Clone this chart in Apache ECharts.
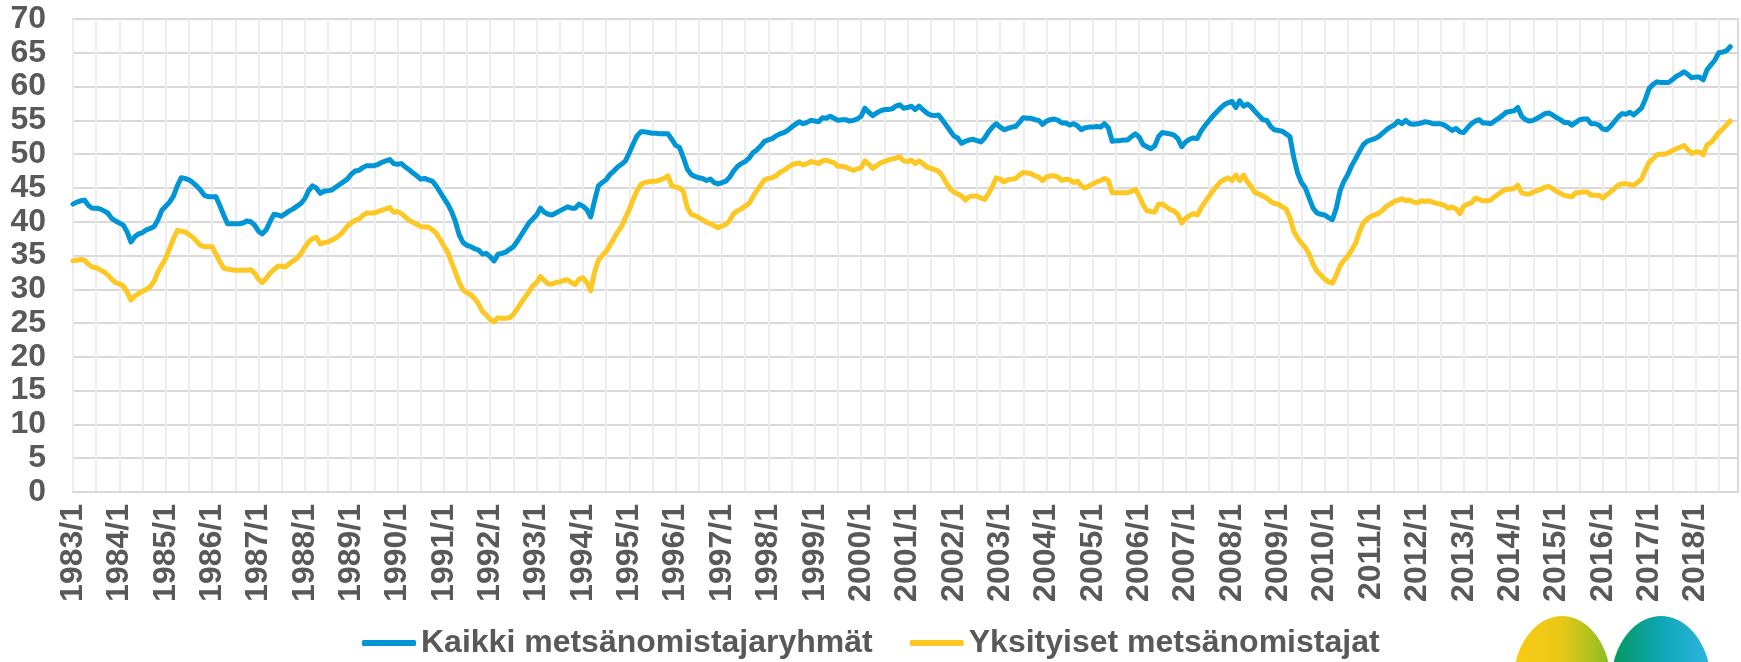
<!DOCTYPE html>
<html>
<head>
<meta charset="utf-8">
<script src="https://cdn.jsdelivr.net/npm/echarts@6/dist/echarts.min.js"></script>
<style>
  html, body { margin: 0; padding: 0; background: #ffffff; }
  #chart { width: 1741px; height: 662px; }
</style>
</head>
<body>
<div id="chart"></div>
<script>
// ---- DATA ----
const firstYear = 1983;
const lastYear = 2018;
// Monthly categories 1983/1 ... 2018/12
const categories = [];
for (let y = firstYear; y <= lastYear; y++) {
  for (let m = 1; m <= 12; m++) categories.push(y + '/' + m);
}
const yTicks = [0, 5, 10, 15, 20, 25, 30, 35, 40, 45, 50, 55, 60, 65, 70];
const seriesNames = ['Kaikki metsänomistajaryhmät', 'Yksityiset metsänomistajat'];

// Kaikki metsänomistajaryhmät (monthly, one row per year)
const kaikki = [
  42.6, 42.9, 43.1, 43.2, 42.4, 42.0, 42.0, 41.9, 41.6, 41.3, 40.5, 40.1,
  39.8, 39.5, 38.5, 37.0, 37.8, 38.2, 38.4, 38.8, 39.0, 39.3, 40.3, 41.7,
  42.3, 42.9, 43.8, 45.3, 46.5, 46.4, 46.2, 45.8, 45.3, 44.7, 43.9, 43.7,
  43.7, 43.7, 42.4, 41.0, 39.7, 39.7, 39.7, 39.7, 39.8, 40.1, 40.0, 39.5,
  38.6, 38.2, 38.8, 40.0, 41.1, 41.0, 40.8, 41.2, 41.6, 41.9, 42.3, 42.7,
  43.4, 44.6, 45.3, 45.0, 44.2, 44.5, 44.6, 44.7, 45.1, 45.5, 45.9, 46.3,
  47.0, 47.5, 47.6, 48.0, 48.3, 48.3, 48.3, 48.5, 48.8, 49.0, 49.2, 48.6,
  48.5, 48.6, 48.1, 47.7, 47.2, 46.8, 46.3, 46.4, 46.2, 46.0, 45.3, 44.4,
  43.5, 42.6, 41.5, 40.0, 38.0, 36.9, 36.5, 36.3, 36.0, 35.8, 35.2, 35.3,
  34.8, 34.2, 35.2, 35.3, 35.5, 35.9, 36.3, 37.1, 38.0, 38.9, 39.8, 40.4,
  41.0, 42.0, 41.4, 41.1, 41.0, 41.3, 41.6, 41.9, 42.2, 42.0, 42.0, 42.6,
  42.3, 41.8, 40.7, 43.1, 45.3, 45.8, 46.2, 47.0, 47.5, 48.1, 48.5, 49.0,
  50.2, 51.5, 52.7, 53.3, 53.3, 53.2, 53.1, 53.1, 53.0, 53.0, 53.0, 52.2,
  51.3, 51.0, 49.5, 47.8, 47.0, 46.7, 46.5, 46.4, 46.1, 46.3, 45.8, 45.6,
  45.8, 46.0, 46.6, 47.5, 48.2, 48.6, 48.9, 49.4, 50.2, 50.6, 51.2, 51.9,
  52.1, 52.3, 52.7, 53.0, 53.2, 53.5, 54.0, 54.4, 54.8, 54.5, 54.7, 55.0,
  54.9, 54.8, 55.4, 55.3, 55.6, 55.3, 55.0, 55.1, 55.1, 54.9, 55.0, 55.2,
  55.6, 56.8, 56.2, 55.7, 56.1, 56.4, 56.6, 56.6, 56.7, 57.1, 57.3, 56.8,
  56.9, 57.1, 56.6, 57.1, 56.6, 56.1, 55.8, 55.7, 55.8, 55.1, 54.3, 53.5,
  52.7, 52.4, 51.6, 51.9, 52.1, 52.2, 52.0, 51.8, 52.4, 53.3, 54.0, 54.5,
  54.0, 53.6, 53.8, 54.0, 54.1, 54.7, 55.4, 55.3, 55.3, 55.1, 55.0, 54.4,
  54.9, 55.1, 55.2, 55.0, 54.6, 54.6, 54.3, 54.5, 54.2, 53.6, 53.9, 54.0,
  54.0, 54.1, 54.0, 54.5, 53.9, 51.9, 52.0, 52.0, 52.1, 52.1, 52.6, 53.0,
  52.5, 51.4, 51.1, 50.8, 51.2, 52.6, 53.2, 53.1, 53.0, 52.8, 52.3, 51.1,
  51.8, 52.2, 52.4, 52.3, 53.4, 54.2, 54.9, 55.6, 56.2, 56.8, 57.3, 57.6,
  57.8, 56.9, 57.9, 57.1, 57.4, 57.0, 56.3, 55.7, 55.1, 55.0, 54.1, 53.6,
  53.5, 53.4, 53.0, 52.6, 49.5, 47.2, 45.8, 45.0, 43.5, 42.0, 41.3, 41.1,
  41.0, 40.6, 40.3, 42.0, 44.6, 46.0, 47.0, 48.3, 49.3, 50.4, 51.4, 51.9,
  52.1, 52.3, 52.6, 53.1, 53.6, 54.0, 54.3, 54.9, 54.5, 55.0, 54.5, 54.4,
  54.5, 54.6, 54.8, 54.7, 54.5, 54.5, 54.5, 54.3, 53.9, 53.5, 53.8, 53.3,
  53.2, 53.9, 54.5, 54.9, 55.1, 54.6, 54.6, 54.5, 54.9, 55.3, 55.7, 56.2,
  56.3, 56.4, 56.9, 55.6, 55.1, 54.9, 55.0, 55.3, 55.6, 56.0, 56.1, 55.8,
  55.4, 55.1, 54.7, 54.7, 54.3, 54.7, 55.1, 55.2, 55.2, 54.5, 54.5, 54.3,
  53.7, 53.6, 54.1, 54.8, 55.5, 56.0, 55.9, 56.2, 55.8, 56.3, 56.8, 58.1,
  59.7, 60.3, 60.7, 60.6, 60.6, 60.6, 61.0, 61.5, 61.8, 62.2, 61.8, 61.3,
  61.4, 61.4, 61.0, 62.5, 63.2, 63.9, 65.0, 65.1, 65.3, 65.9, null, null
];

// Yksityiset metsänomistajat (monthly, one row per year)
const yksityiset = [
  34.2, 34.3, 34.4, 34.3, 33.7, 33.3, 33.2, 32.9, 32.6, 32.1, 31.5, 31.0,
  30.8, 30.5, 29.6, 28.4, 29.0, 29.4, 29.7, 30.0, 30.4, 31.2, 32.6, 33.6,
  34.6, 36.0, 37.5, 38.7, 38.6, 38.5, 38.1, 37.7, 37.1, 36.5, 36.3, 36.3,
  36.3, 35.2, 34.1, 33.1, 33.0, 32.9, 32.8, 32.8, 32.8, 32.8, 32.9, 32.4,
  31.5, 31.0, 31.6, 32.4, 32.9, 33.4, 33.4, 33.3, 33.8, 34.2, 34.6, 35.3,
  36.2, 37.0, 37.5, 37.7, 36.7, 36.9, 37.0, 37.3, 37.6, 38.0, 38.6, 39.3,
  39.8, 40.2, 40.4, 40.9, 41.3, 41.3, 41.3, 41.5, 41.7, 41.9, 42.1, 41.4,
  41.5, 41.2, 40.7, 40.2, 39.9, 39.6, 39.3, 39.2, 39.2, 38.8, 38.3, 37.4,
  36.4, 35.5, 34.0, 32.5, 31.0, 29.9, 29.5, 29.2, 28.6, 27.8, 26.7, 26.2,
  25.5, 25.2, 25.8, 25.7, 25.7, 25.8, 26.3, 27.1, 28.0, 28.8, 29.6, 30.5,
  31.0, 31.9, 31.3, 30.8, 30.8, 31.0, 31.1, 31.3, 31.4, 31.0, 30.7, 31.5,
  31.7, 31.0, 29.8, 32.5, 34.3, 35.0, 35.6, 36.5, 37.5, 38.5, 39.3, 40.6,
  41.8, 43.3, 44.6, 45.5, 45.8, 45.9, 46.0, 46.0, 46.2, 46.4, 46.8, 45.3,
  45.1, 45.0, 44.5, 42.1, 41.1, 40.9, 40.6, 40.3, 39.9, 39.7, 39.4, 39.1,
  39.4, 39.6, 40.2, 41.2, 41.6, 41.9, 42.3, 42.7, 43.7, 44.6, 45.4, 46.2,
  46.4, 46.5, 46.8, 47.3, 47.6, 48.0, 48.4, 48.6, 48.7, 48.4, 48.6, 48.9,
  48.8, 48.6, 49.0, 49.1, 48.9, 48.7, 48.2, 48.2, 48.1, 47.8, 47.6, 47.8,
  48.0, 49.0, 48.5, 47.9, 48.3, 48.7, 48.9, 49.1, 49.3, 49.4, 49.6, 49.0,
  48.9, 49.1, 48.6, 49.0, 48.6, 48.1, 47.9, 47.7, 47.5, 46.8, 45.8, 44.9,
  44.4, 44.1, 43.8, 43.2, 43.7, 43.8, 43.8, 43.5, 43.3, 44.2, 45.2, 46.5,
  46.3, 45.9, 46.2, 46.3, 46.4, 46.9, 47.3, 47.2, 47.1, 46.8, 46.6, 46.1,
  46.6, 46.8, 46.8, 46.6, 46.1, 46.3, 46.2, 45.8, 46.0, 45.3, 45.0, 45.3,
  45.6, 45.9, 46.1, 46.4, 46.1, 44.3, 44.3, 44.3, 44.3, 44.3, 44.5, 44.8,
  43.8, 42.5, 41.6, 41.5, 41.4, 42.6, 42.6, 42.2, 41.8, 41.6, 41.1, 39.8,
  40.5, 40.9, 41.2, 41.0, 42.0, 42.9, 43.7, 44.5, 45.2, 45.9, 46.2, 46.5,
  46.1, 46.9, 46.1, 46.9, 45.9, 45.2, 44.3, 44.1, 43.8, 43.5, 43.0, 42.7,
  42.6, 42.2, 41.9, 40.6, 38.6, 37.6, 36.8, 36.2, 35.2, 33.7, 32.7, 32.1,
  31.5, 31.1, 30.9, 32.1, 33.5, 34.3, 34.9, 35.8, 36.8, 38.5, 39.8, 40.4,
  40.8, 41.0, 41.3, 41.7, 42.3, 42.6, 43.0, 43.2, 43.4, 43.1, 43.2, 42.9,
  42.8, 43.1, 43.0, 43.1, 42.9, 42.7, 42.6, 42.4, 42.0, 42.2, 41.9, 41.2,
  42.3, 42.6, 42.8, 43.5, 43.3, 43.1, 43.1, 43.2, 43.7, 44.1, 44.5, 44.8,
  44.8, 44.9, 45.4, 44.3, 44.1, 44.1, 44.4, 44.6, 44.8, 45.1, 45.2, 44.9,
  44.5, 44.2, 43.9, 43.8, 43.7, 44.3, 44.3, 44.4, 44.4, 43.9, 43.9, 43.9,
  43.5, 44.0, 44.4, 44.9, 45.4, 45.6, 45.6, 45.5, 45.4, 45.8, 46.3, 47.6,
  48.8, 49.3, 49.9, 50.0, 50.0, 50.2, 50.5, 50.8, 51.0, 51.3, 50.7, 50.1,
  50.3, 50.3, 49.9, 51.4, 51.7, 52.4, 53.2, 53.7, 54.3, 54.9, null, null
];

// ---- STYLE ----
const blue = '#0095D5';
const yellow = '#FDC823';
const textGray = '#595959';
const fontFamily = '"Liberation Sans", Arial, sans-serif';

const chart = echarts.init(document.getElementById('chart'), null, { renderer: 'canvas' });

chart.setOption({
  animation: false,
  backgroundColor: '#ffffff',
  grid: {
    left: 73, right: 3, top: 19, bottom: 170,
    show: true, borderColor: '#D9D9D9', borderWidth: 2, backgroundColor: 'transparent'
  },
  legend: {
    data: seriesNames,
    left: 357,
    top: 622,
    itemWidth: 54,
    itemHeight: 6,
    itemGap: 37,
    icon: 'roundRect',
    textStyle: { fontSize: 32, fontWeight: 'bold', color: textGray, fontFamily: fontFamily }
  },
  xAxis: {
    type: 'category',
    data: categories,
    boundaryGap: false,
    axisLine: { show: true, lineStyle: { color: '#D9D9D9', width: 2 } },
    axisTick: { show: false },
    axisLabel: {
      interval: 11,
      rotate: 90,
      margin: 12,
      fontSize: 32,
      fontWeight: 'bold',
      color: textGray,
      fontFamily: fontFamily
    },
    splitLine: { show: true, interval: 5, lineStyle: { color: '#EDEDED', width: 2 } }
  },
  yAxis: {
    type: 'value',
    min: yTicks[0],
    max: yTicks[yTicks.length - 1],
    interval: 5,
    axisLine: { show: false },
    axisTick: { show: false },
    axisLabel: {
      margin: 27,
      fontSize: 32,
      fontWeight: 'bold',
      color: textGray,
      fontFamily: fontFamily
    },
    splitLine: { show: true, lineStyle: { color: '#D9D9D9', width: 2 } }
  },
  series: [
    {
      name: seriesNames[0], type: 'line', data: kaikki, showSymbol: false, symbol: 'none',
      color: blue, lineStyle: { color: blue, width: 5, cap: 'round', join: 'round' }, z: 3
    },
    {
      name: seriesNames[1], type: 'line', data: yksityiset, showSymbol: false, symbol: 'none',
      color: yellow, lineStyle: { color: yellow, width: 5, cap: 'round', join: 'round' }, z: 2
    }
  ],
  graphic: [
    {
      type: 'ellipse',
      shape: { cx: 1562, cy: 684, rx: 49, ry: 68 },
      style: {
        fill: new echarts.graphic.LinearGradient(0, 0, 1, 0, [
          { offset: 0, color: '#F9CB14' },
          { offset: 0.5, color: '#E9C816' },
          { offset: 1, color: '#86BD24' }
        ])
      },
      z: 10
    },
    {
      type: 'ellipse',
      shape: { cx: 1661, cy: 684, rx: 50, ry: 68 },
      style: {
        fill: new echarts.graphic.LinearGradient(0, 0, 1, 0, [
          { offset: 0, color: '#05975A' },
          { offset: 0.5, color: '#0EA6B4' },
          { offset: 1, color: '#30B6E2' }
        ])
      },
      z: 10
    }
  ]
});
</script>
</body>
</html>
